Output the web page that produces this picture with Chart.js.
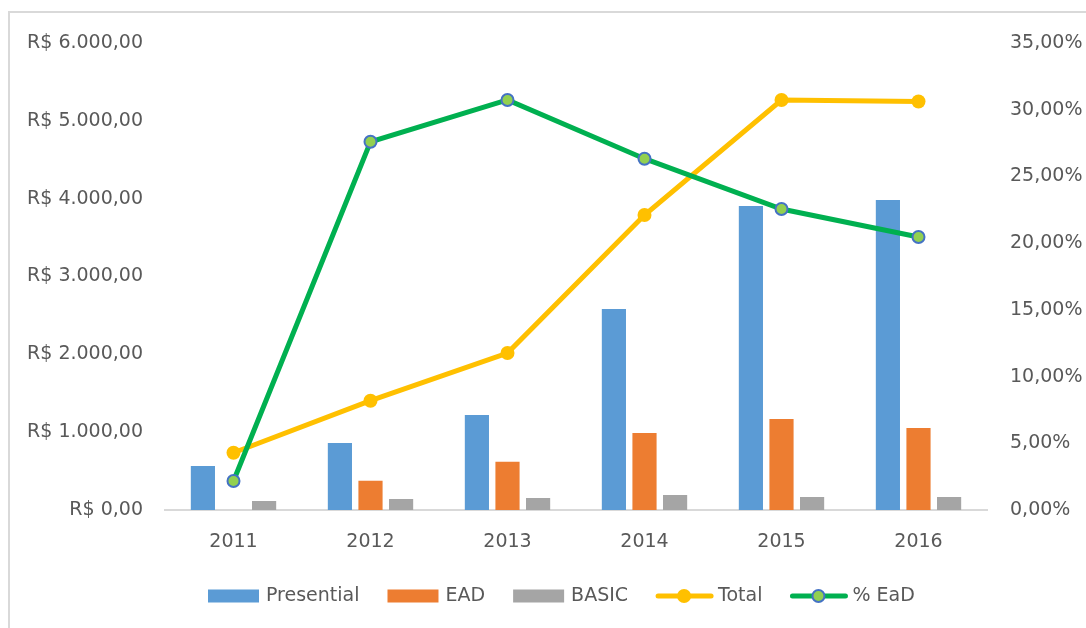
<!DOCTYPE html>
<html>
<head>
<meta charset="utf-8">
<script src="https://cdn.jsdelivr.net/npm/chart.js@4.4.0/dist/chart.umd.min.js"></script>
<style>
  html, body { margin: 0; padding: 0; background: #fff; }
  #wrap { width: 1086px; height: 628px; position: relative; }
</style>
</head>
<body>
<div id="wrap"><canvas id="eadChart" width="1086" height="628"></canvas></div>
<script>
// ── Matrículas por modalidade 2011–2016 + % EaD ─────────────────────
const years = ['2011', '2012', '2013', '2014', '2015', '2016'];
const presential = [565, 861, 1221, 2582, 3906, 3983];
const ead = [0, 376, 621, 989, 1169, 1054];
const basic = [116, 141, 154, 193, 167, 167];
const total = [736, 1404, 2017, 3790, 5268, 5249];
const pctEad = [2.17, 27.6, 30.73, 26.33, 22.56, 20.46];

const leftTicks = { min: 0, max: 6000, step: 1000 };
const rightTicks = { min: 0, max: 35, step: 5 };

const FONT = 'DejaVu Sans, sans-serif';
const TXT = '#595959';

// R$ 6.000,00
function brl(v) {
  const [int, dec] = Number(v).toFixed(2).split('.');
  return 'R$ ' + int.replace(/\B(?=(\d{3})+(?!\d))/g, '.') + ',' + dec;
}
function pct(v) {
  return Number(v).toFixed(2).replace('.', ',') + '%';
}

// moldura cinza + legenda desenhada à mão (estilo Excel)
const frameLegendPlugin = {
  id: 'frameLegend',
  beforeDraw(chart) {
    const { ctx } = chart;
    ctx.save();
    ctx.strokeStyle = '#D9D9D9';
    ctx.lineWidth = 2;
    ctx.strokeRect(9, 12, 1200, 800);
    ctx.restore();
  },
  afterDraw(chart) {
    const { ctx } = chart;
    const ds = chart.data.datasets;
    const cy = 596;
    let x = 208;
    ctx.save();
    ctx.font = '19px ' + FONT;
    ctx.textBaseline = 'middle';
    // ordem da legenda: Presential, EAD, BASIC, Total, % EaD
    const order = [2, 3, 4, 1, 0];
    order.forEach(i => {
      const d = ds[i];
      if (d.type === 'bar') {
        ctx.fillStyle = d.backgroundColor;
        ctx.fillRect(x, cy - 6.5, 51, 13);
        x += 51 + 7;
      } else {
        ctx.strokeStyle = d.borderColor;
        ctx.lineWidth = 5;
        ctx.lineCap = 'round';
        ctx.beginPath();
        ctx.moveTo(x + 2, cy);
        ctx.lineTo(x + 55, cy);
        ctx.stroke();
        ctx.beginPath();
        ctx.arc(x + 28, cy, d.pointRadius, 0, Math.PI * 2);
        ctx.fillStyle = d.pointBackgroundColor;
        ctx.fill();
        if (d.pointBorderWidth) {
          ctx.lineWidth = d.pointBorderWidth;
          ctx.strokeStyle = d.pointBorderColor;
          ctx.stroke();
        }
        x += 57 + 5;
      }
      ctx.fillStyle = TXT;
      ctx.fillText(d.label, x, cy);
      x += ctx.measureText(d.label).width + 28;
    });
    ctx.restore();
  }
};

new Chart(document.getElementById('eadChart'), {
  data: {
    labels: years,
    datasets: [
      {
        type: 'line',
        label: '% EaD',
        data: pctEad,
        yAxisID: 'y1',
        borderColor: '#00B050',
        borderWidth: 5,
        pointRadius: 6,
        pointBackgroundColor: '#92D050',
        pointBorderColor: '#4472C4',
        pointBorderWidth: 2,
        tension: 0,
        order: 0
      },
      {
        type: 'line',
        label: 'Total',
        data: total,
        yAxisID: 'y',
        borderColor: '#FFC000',
        borderWidth: 5,
        pointRadius: 7,
        pointBackgroundColor: '#FFC000',
        pointBorderColor: '#FFC000',
        pointBorderWidth: 0,
        tension: 0,
        order: 1
      },
      {
        type: 'bar',
        label: 'Presential',
        data: presential,
        yAxisID: 'y',
        backgroundColor: '#5B9BD5',
        order: 2
      },
      {
        type: 'bar',
        label: 'EAD',
        data: ead,
        yAxisID: 'y',
        backgroundColor: '#ED7D31',
        order: 2
      },
      {
        type: 'bar',
        label: 'BASIC',
        data: basic,
        yAxisID: 'y',
        backgroundColor: '#A5A5A5',
        order: 2
      }
    ]
  },
  options: {
    responsive: false,
    animation: false,
    layout: { padding: { top: 43, left: 0, right: 0, bottom: 0 } },
    datasets: {
      bar: { categoryPercentage: 0.67, barPercentage: 0.79 }
    },
    plugins: {
      legend: { display: false },
      tooltip: { enabled: false }
    },
    scales: {
      x: {
        grid: { display: false, drawTicks: false },
        border: { display: true, color: '#D9D9D9', width: 2 },
        ticks: { font: { family: FONT, size: 19 }, color: TXT, padding: 21 },
        afterFit(scale) { scale.height = 118; }
      },
      y: {
        position: 'left',
        min: leftTicks.min,
        max: leftTicks.max,
        grid: { display: false, drawTicks: false },
        border: { display: false },
        ticks: {
          stepSize: leftTicks.step,
          font: { family: FONT, size: 19 },
          color: TXT,
          padding: 22,
          callback: v => brl(v)
        },
        afterFit(scale) { scale.width = 165; }
      },
      y1: {
        position: 'right',
        min: rightTicks.min,
        max: rightTicks.max,
        grid: { display: false, drawTicks: false },
        border: { display: false },
        ticks: {
          stepSize: rightTicks.step,
          font: { family: FONT, size: 19 },
          color: TXT,
          padding: 23,
          callback: v => pct(v)
        },
        afterFit(scale) { scale.width = 99; }
      }
    }
  },
  plugins: [frameLegendPlugin]
});
</script>
</body>
</html>
